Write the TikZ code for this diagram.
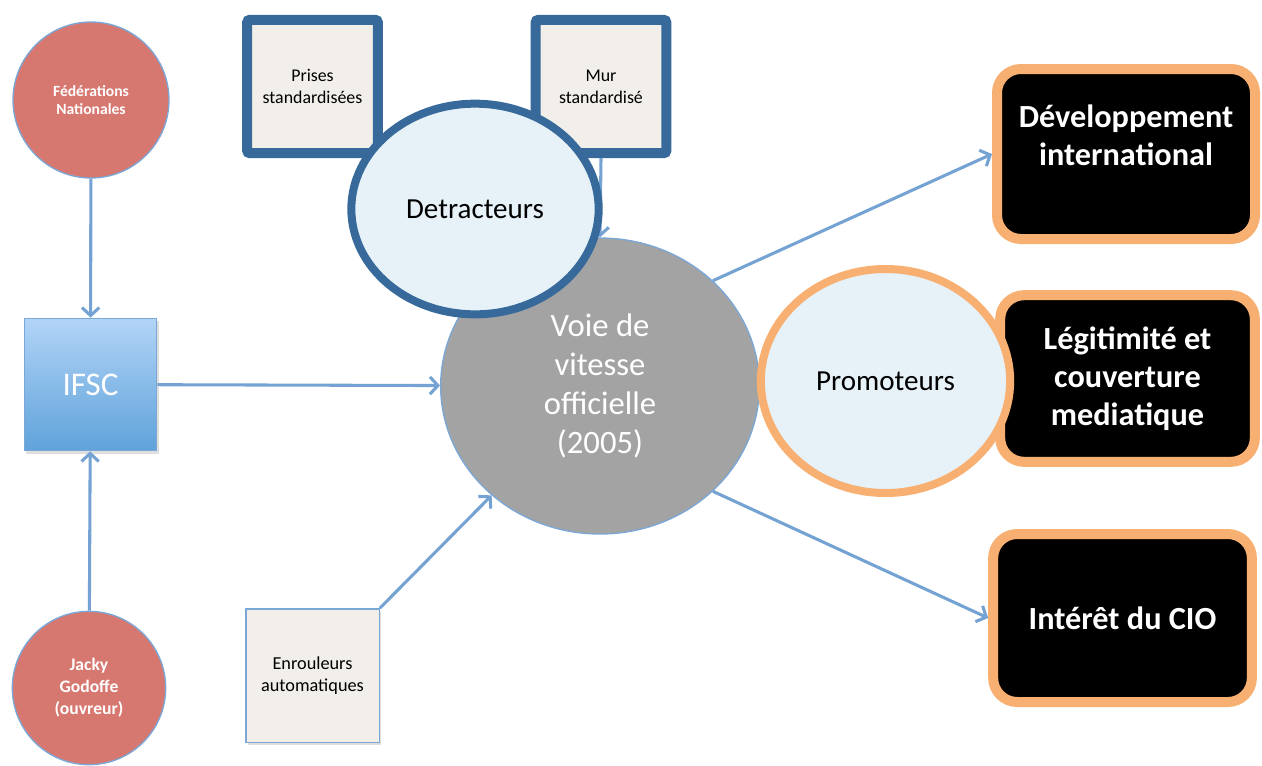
\documentclass[tikz,border=0pt]{standalone}
\usepackage{fontspec}
\setmainfont{Carlito}
\usetikzlibrary{arrows.meta,shapes.geometric,shadows}
\definecolor{salmon}{HTML}{D77870}
\definecolor{thinblue}{HTML}{7BA7D6}
\definecolor{ifsctop}{HTML}{B2D4F7}
\definecolor{ifscbot}{HTML}{5FA2DA}
\definecolor{darkblue}{HTML}{376A9A}
\definecolor{palefill}{HTML}{E6F1F8}
\definecolor{beige}{HTML}{F2EFEA}
\definecolor{orangeb}{HTML}{F8B072}
\definecolor{grayfill}{HTML}{A3A3A3}
\definecolor{arrowblue}{HTML}{73A2D3}
\tikzset{
  redcircle/.style={circle,fill=salmon,draw=thinblue,line width=1pt,text=white,align=center,inner sep=0pt},
  bluebox/.style={rectangle,draw=darkblue,line width=7.5pt,fill=beige,rounded corners=2pt,align=center,inner sep=0pt,minimum width=98pt,minimum height=100pt,font=\fontsize{13.4}{16.5}\selectfont,drop shadow={shadow xshift=1.5pt,shadow yshift=-2pt,opacity=0.25}},
  plainbox/.style={rectangle,draw=thinblue,line width=1pt,fill=beige,align=center,inner sep=0pt,minimum width=100pt,minimum height=100pt,font=\fontsize{13.7}{16.5}\selectfont,drop shadow={shadow xshift=1.5pt,shadow yshift=-2pt,opacity=0.25}},
  palecircle/.style={ellipse,fill=palefill,line width=6pt,inner sep=0pt,font=\fontsize{21.8}{26}\selectfont},
  blackbox/.style={rectangle,rounded corners=18pt,draw=orangeb,line width=7.5pt,fill=black,text=white,align=center,inner sep=0pt,font=\bfseries\fontsize{24.2}{28.5}\selectfont,drop shadow={shadow xshift=1.5pt,shadow yshift=-2pt,opacity=0.25}},
  arr/.style={draw=arrowblue,line width=2.3pt,-{Straight Barb[length=6pt,width=13pt,line width=2.3pt]}}
}
\begin{document}
\begin{tikzpicture}[x=0.75pt,y=-0.75pt]
\useasboundingbox (0,0) rectangle (1262,765);
% left column
\node[redcircle,minimum size=117pt,font=\bfseries\fontsize{11.7}{13.5}\selectfont] (fed) at (91,100) {Fédérations\\Nationales};
\node[redcircle,minimum size=115pt,font=\bfseries\fontsize{13.2}{16.5}\selectfont] (jacky) at (89,688) {Jacky\\Godoffe\\(ouvreur)};
\node[rectangle,draw=thinblue,line width=0.8pt,top color=ifsctop,bottom color=ifscbot,minimum width=99.5pt,minimum height=99.5pt,inner sep=0pt,text=white,font=\fontsize{24.8}{28}\selectfont,drop shadow={shadow xshift=1.5pt,shadow yshift=-2pt,opacity=0.25}] (ifsc) at (90.5,384.5) {IFSC};
% centre
\node[ellipse,fill=grayfill,draw=thinblue,line width=1pt,minimum width=239pt,minimum height=222pt,inner sep=0pt,text=white,align=center,font=\fontsize{24.5}{29.3}\selectfont] (voie) at (600,386) {Voie de\\vitesse\\officielle\\(2005)};
% top boxes
\node[bluebox] (prises) at (312.5,86.5) {Prises\\standardisées};
\node[bluebox] (mur) at (601,86.5) {Mur\\standardisé};
\node[plainbox] (enr) at (312.5,675.5) {Enrouleurs\\automatiques};
% right boxes
\node[blackbox,minimum width=193.5pt,minimum height=127.5pt] (dev) at (1126,154) {Développement\\international\\\mbox{}};
\node[blackbox,minimum width=191pt,minimum height=125pt] (legit) at (1127.5,378.5) {Légitimité et\\couverture\\mediatique};
\node[blackbox,minimum width=194pt,minimum height=126pt] (cio) at (1122.5,618) {Intérêt du CIO};
% connectors
\draw[arr] (fed) -- (ifsc);
\draw[arr] (jacky) -- (ifsc);
\draw[arr] (ifsc) -- (voie);
\draw[arr] (mur.south) -- (voie.north);
\draw[arr] (enr.north east) -- (voie);
\draw[arr] (voie.43) -- (dev.west);
\draw[arr] (voie.-43) -- (cio.west);
% overlapping circles
\node[palecircle,draw=darkblue,minimum width=185.5pt,minimum height=158pt] (detr) at (475,209) {Detracteurs};
\node[palecircle,draw=orangeb,minimum width=187pt,minimum height=168pt] (promo) at (885.5,381) {Promoteurs};
\end{tikzpicture}
\end{document}
